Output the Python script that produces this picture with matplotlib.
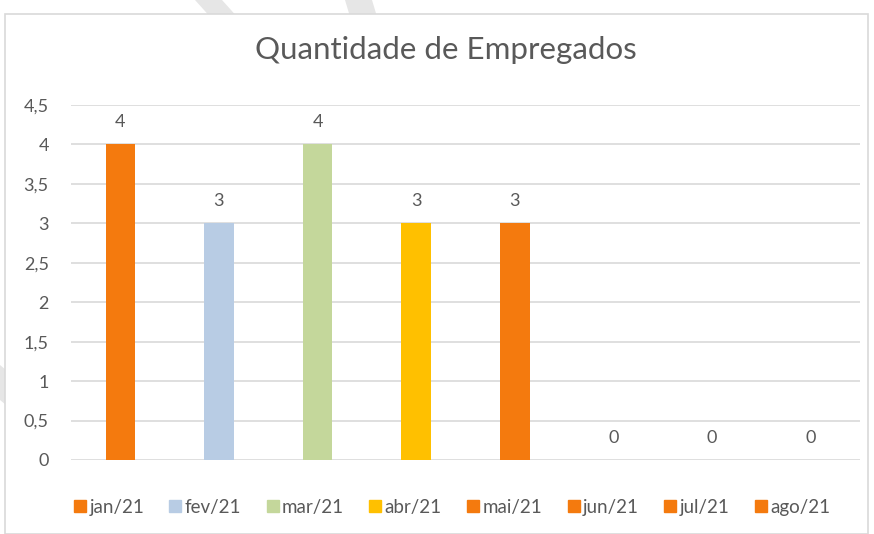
import matplotlib
matplotlib.use("Agg")
import matplotlib.pyplot as plt
from matplotlib.patches import Rectangle, Polygon
from matplotlib.lines import Line2D

# data
months = ["jan/21", "fev/21", "mar/21", "abr/21", "mai/21", "jun/21", "jul/21", "ago/21"]
empregados = [4, 3, 4, 3, 3, 0, 0, 0]
cores = ["#F47A0E", "#B8CCE4", "#C4D79B", "#FFC000", "#F47A0E", "#F47A0E", "#F47A0E", "#F47A0E"]
yticks = [0, 0.5, 1, 1.5, 2, 2.5, 3, 3.5, 4, 4.5]

plt.rcParams['font.family'] = ['Lato', 'DejaVu Sans']
txt = "#595959"

fig = plt.figure(figsize=(8.74, 5.34), dpi=100)

# watermark stripes behind the chart frame
for pts in ([(195, 0), (222, 0), (240, 20), (213, 20)],
            [(345, 0), (372, 0), (378, 20), (351, 20)],
            [(0, 365), (12, 375), (12, 410), (0, 400)]):
    fig.patches.append(Polygon([(x / 874, 1 - y / 534) for x, y in pts], closed=True,
                               transform=fig.transFigure, facecolor="#E6E6E6", edgecolor="none", zorder=0))

# chart frame
fig.patches.append(Rectangle((5 / 874, 0), 863 / 874, 1 - 14 / 534, transform=fig.transFigure,
                             facecolor="white", edgecolor="#D9D9D9", linewidth=1.2, zorder=1))

ax = fig.add_axes([71 / 874, 74 / 534, 789 / 874, 355 / 534])
ax.set_zorder(2)
ax.patch.set_alpha(0)

x = range(len(months))
bars = ax.bar(x, empregados, width=0.3, color=cores, zorder=3)
for i, v in enumerate(empregados):
    ax.text(i, v + 0.18, str(v), ha="center", va="bottom", fontsize=13, color=txt)

ax.set_xlim(-0.5, len(months) - 0.5)
ax.set_ylim(0, 4.5)
ax.set_yticks(yticks)
ax.set_yticklabels([("%g" % t).replace(".", ",") for t in yticks], fontsize=13, color=txt)
ax.set_xticks([])
ax.yaxis.grid(True, color="#D9D9D9", linewidth=1.2, zorder=0)
ax.tick_params(axis="y", length=0, pad=16)
for s in ax.spines.values():
    s.set_visible(False)

ax.set_title("Quantidade de Empregados", fontsize=22.5, color=txt, pad=33, x=0.5 - 20 / 789)

handles = [Line2D([], [], marker="s", linestyle="none", markersize=9, color=c) for c in cores]
fig.legend(handles, months, loc="center", bbox_to_anchor=(451 / 874, 1 - 507 / 534), ncol=8,
           frameon=False, fontsize=13.5, handletextpad=0.05, columnspacing=1.22, labelcolor=txt,
           handlelength=0.9)

fig.savefig("out.png", dpi=100)
